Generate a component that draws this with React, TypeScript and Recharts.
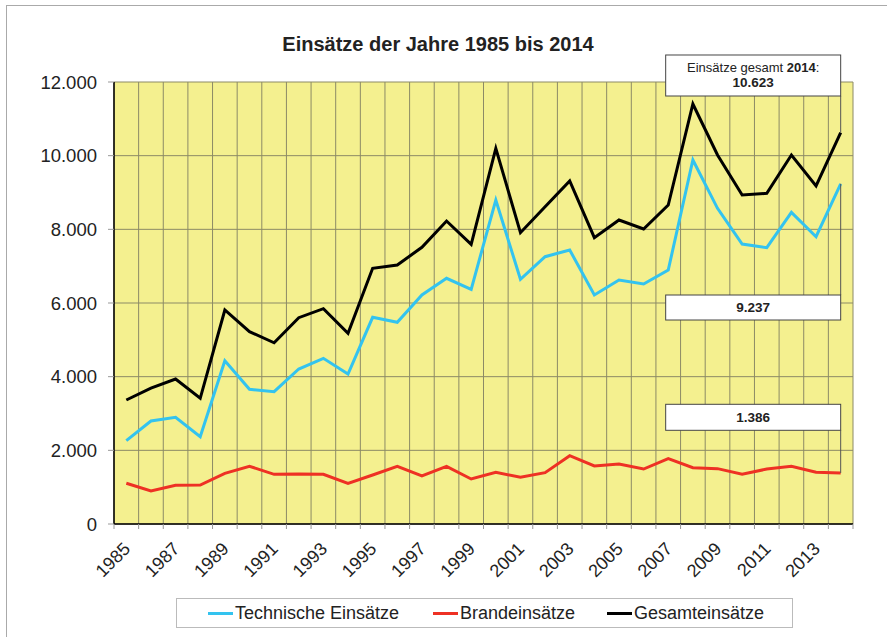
import { LineChart, Line, XAxis, YAxis, CartesianGrid, ReferenceLine, ReferenceDot } from 'recharts';

const years = [
  '1985', '1986', '1987', '1988', '1989', '1990', '1991', '1992', '1993', '1994',
  '1995', '1996', '1997', '1998', '1999', '2000', '2001', '2002', '2003', '2004',
  '2005', '2006', '2007', '2008', '2009', '2010', '2011', '2012', '2013', '2014',
];

const technische = [
  2262, 2796, 2896, 2371, 4434, 3657, 3592, 4208, 4498, 4072,
  5611, 5476, 6217, 6670, 6372, 8797, 6643, 7257, 7439, 6217,
  6625, 6516, 6896, 9883, 8570, 7602, 7502, 8462, 7800, 9237,
];

const brand = [
  1105, 896, 1050, 1059, 1376, 1566, 1349, 1358, 1349, 1105,
  1330, 1566, 1303, 1566, 1222, 1403, 1267, 1394, 1855, 1575,
  1629, 1493, 1774, 1530, 1503, 1349, 1493, 1566, 1403, 1386,
];

const gesamt = [
  3367, 3690, 3937, 3413, 5810, 5221, 4920, 5601, 5845, 5177,
  6942, 7032, 7512, 8226, 7594, 10200, 7909, 8615, 9313, 7773,
  8254, 8010, 8661, 11403, 10018, 8932, 8978, 10018, 9177, 10623,
];

const yTicks = [0, 2000, 4000, 6000, 8000, 10000, 12000];

const chartData = years.map((year, i) => ({
  year,
  technische: technische[i],
  brand: brand[i],
  gesamt: gesamt[i],
}));

// where the label boxes sit (value at the box edge touching the leader line)
const lastYear = years[years.length - 1];
const boxGesamtEdge = 11620;
const boxTechEdge = 6217;
const boxBrandEdge = 2544;

const WIDTH = 887;
const HEIGHT = 637;
const MARGIN = { top: 82, right: 34, left: 0, bottom: 53 };
const Y_AXIS_W = 114;
const PLOT_W = WIDTH - Y_AXIS_W - MARGIN.right;
const BAND = PLOT_W / years.length;

const FONT = '"Liberation Sans", Arial, sans-serif';
const TEXT = '#222';

const formatDe = (v: number) => {
  const s = String(Math.round(v));
  return s.replace(/\B(?=(\d{3})+(?!\d))/g, '.');
};

const YearTick = (props: any) => {
  const { x, y, payload, index } = props;
  const ax = x + 5;
  const ay = y + 26;
  return (
    <g>
      <line x1={x - BAND / 2} x2={x - BAND / 2} y1={y} y2={y + 5} stroke="#999" />
      {index === years.length - 1 && (
        <line x1={x + BAND / 2} x2={x + BAND / 2} y1={y} y2={y + 5} stroke="#999" />
      )}
      {index % 2 === 0 && (
        <text
          x={ax}
          y={ay}
          textAnchor="end"
          fill={TEXT}
          fontSize={18}
          fontFamily={FONT}
          transform={`rotate(-45, ${ax}, ${ay})`}
        >
          {payload.value}
        </text>
      )}
    </g>
  );
};

const BOX_W = 175;

const GesamtBox = (props: any) => {
  const { cx, cy } = props;
  const h = 41;
  const mid = cx - BOX_W / 2;
  return (
    <g>
      <rect x={cx - BOX_W} y={cy - h} width={BOX_W} height={h} fill="#fff" stroke="#444" />
      <text x={mid} y={cy - 24} textAnchor="middle" fontSize={13} fontFamily={FONT} fill={TEXT}>
        Einsätze gesamt <tspan fontWeight="bold">2014</tspan>:
      </text>
      <text x={mid} y={cy - 8.5} textAnchor="middle" fontSize={13.5} fontWeight="bold" fontFamily={FONT} fill={TEXT}>
        {formatDe(gesamt[gesamt.length - 1])}
      </text>
    </g>
  );
};

const TechBox = (props: any) => {
  const { cx, cy } = props;
  const h = 25;
  return (
    <g>
      <rect x={cx - BOX_W} y={cy} width={BOX_W} height={h} fill="#fff" stroke="#444" />
      <text x={cx - BOX_W / 2} y={cy + 17} textAnchor="middle" fontSize={13.5} fontWeight="bold" fontFamily={FONT} fill={TEXT}>
        {formatDe(technische[technische.length - 1])}
      </text>
    </g>
  );
};

const BrandBox = (props: any) => {
  const { cx, cy } = props;
  const h = 26;
  return (
    <g>
      <rect x={cx - BOX_W} y={cy - h} width={BOX_W} height={h} fill="#fff" stroke="#444" />
      <text x={cx - BOX_W / 2} y={cy - 8.5} textAnchor="middle" fontSize={13.5} fontWeight="bold" fontFamily={FONT} fill={TEXT}>
        {formatDe(brand[brand.length - 1])}
      </text>
    </g>
  );
};

const legendItems = [
  { name: 'Technische Einsätze', color: '#33C3EF', left: 31 },
  { name: 'Brandeinsätze', color: '#EE3124', left: 256 },
  { name: 'Gesamteinsätze', color: '#000000', left: 430 },
];

export default function App() {
  return (
    <div
      style={{
        position: 'absolute',
        left: 0,
        top: 0,
        width: WIDTH,
        height: HEIGHT,
        overflow: 'hidden',
        background: '#fff',
        fontFamily: FONT,
      }}
    >
      <div
        style={{
          position: 'absolute',
          left: 6,
          top: 5,
          width: 1000,
          height: 1000,
          border: '1px solid #aaa',
        }}
      />
      <div
        style={{
          position: 'absolute',
          left: 0,
          top: 33,
          width: 876,
          textAlign: 'center',
          fontSize: 20,
          fontWeight: 'bold',
          color: TEXT,
        }}
      >
        Einsätze der Jahre 1985 bis 2014
      </div>
      <div style={{ position: 'absolute', left: 0, top: 0 }}>
        <LineChart width={WIDTH} height={HEIGHT} data={chartData} margin={MARGIN}>
          <CartesianGrid
            fill="#F4F08F"
            fillOpacity={1}
            stroke="#8c8a66"
            verticalCoordinatesGenerator={({ offset }: any) =>
              Array.from({ length: years.length + 1 }, (_, i) => offset.left + (i * offset.width) / years.length)
            }
          />
          <XAxis
            dataKey="year"
            interval={0}
            height={60}
            padding={{ left: BAND / 2, right: BAND / 2 }}
            tickSize={0}
            tickMargin={0}
            tickLine={false}
            axisLine={{ stroke: '#000', strokeWidth: 1.5 }}
            tick={<YearTick />}
          />
          <YAxis
            width={Y_AXIS_W}
            domain={[0, 12000]}
            ticks={yTicks}
            tickFormatter={formatDe}
            tickSize={6}
            tickMargin={11}
            tickLine={{ stroke: '#999' }}
            axisLine={{ stroke: '#000', strokeWidth: 1.5 }}
            tick={{ fill: TEXT, fontSize: 18.5, fontFamily: FONT }}
          />
          <Line
            type="linear"
            dataKey="technische"
            stroke="#33C3EF"
            strokeWidth={3}
            dot={false}
            isAnimationActive={false}
          />
          <Line
            type="linear"
            dataKey="brand"
            stroke="#EE3124"
            strokeWidth={3}
            dot={false}
            isAnimationActive={false}
          />
          <Line
            type="linear"
            dataKey="gesamt"
            stroke="#000"
            strokeWidth={3}
            dot={false}
            isAnimationActive={false}
          />
          <ReferenceLine
            segment={[{ x: lastYear, y: gesamt[gesamt.length - 1] }, { x: lastYear, y: boxGesamtEdge }]}
            stroke="#555"
            ifOverflow="visible"
          />
          <ReferenceLine
            segment={[{ x: lastYear, y: technische[technische.length - 1] }, { x: lastYear, y: boxTechEdge }]}
            stroke="#555"
            ifOverflow="visible"
          />
          <ReferenceLine
            segment={[{ x: lastYear, y: brand[brand.length - 1] }, { x: lastYear, y: boxBrandEdge }]}
            stroke="#555"
            ifOverflow="visible"
          />
          <ReferenceDot x={lastYear} y={boxGesamtEdge} r={0} ifOverflow="visible" shape={(p: any) => <GesamtBox {...p} />} />
          <ReferenceDot x={lastYear} y={boxTechEdge} r={0} ifOverflow="visible" shape={(p: any) => <TechBox {...p} />} />
          <ReferenceDot x={lastYear} y={boxBrandEdge} r={0} ifOverflow="visible" shape={(p: any) => <BrandBox {...p} />} />
        </LineChart>
      </div>
      <div
        style={{
          position: 'absolute',
          left: 176,
          top: 598,
          width: 615,
          height: 28,
          border: '1px solid #bbb',
          background: '#fff',
        }}
      >
        {legendItems.map((item) => (
          <div
            key={item.name}
            style={{
              position: 'absolute',
              left: item.left,
              top: 3,
              display: 'flex',
              alignItems: 'center',
              whiteSpace: 'nowrap',
              fontSize: 18,
              color: TEXT,
              lineHeight: '22px',
            }}
          >
            <span style={{ display: 'inline-block', width: 25, height: 3, background: item.color, marginRight: 2 }} />
            {item.name}
          </div>
        ))}
      </div>
    </div>
  );
}
